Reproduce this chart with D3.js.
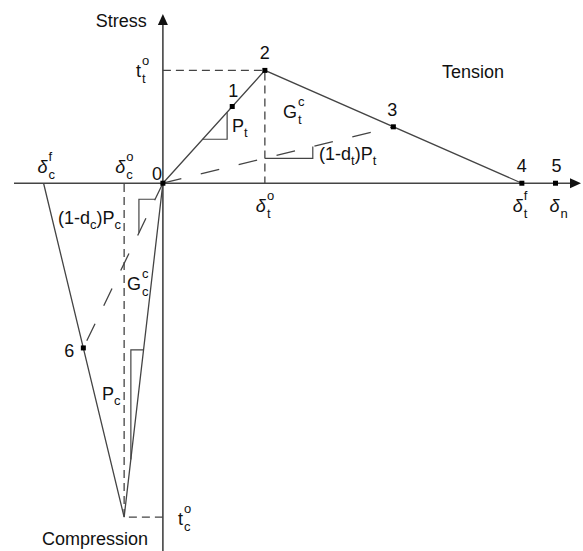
<!DOCTYPE html>
<html lang="en">
<head>
<meta charset="UTF-8">
<title>Traction-separation law</title>
<script src="https://d3js.org/d3.v7.min.js"></script>
<style>
  body { margin: 0; background: #fff; }
  text { font-family: "Liberation Sans", Arial, sans-serif; font-size: 18px; fill: #111; }
  text.small { font-size: 13px; }
  .axis { stroke: #444; stroke-width: 1.6; fill: none; }
  .curve { stroke: #444; stroke-width: 1.3; fill: none; }
  .guide { stroke: #444; stroke-width: 1.3; stroke-dasharray: 8,5; fill: none; }
  .damage { stroke: #444; stroke-width: 1.3; stroke-dasharray: 19,20; fill: none; }
  .slope { stroke: #444; stroke-width: 1.2; fill: none; }
</style>
</head>
<body>
<svg width="583" height="551"></svg>
<script>
// key values (strain in units of delta_t^o, stress in units of t_t^o)
const tensionX = [0, 1.0, 3.52];          // 0 -> peak (2) -> full failure (4)
const tensionY = [0, 1.0, 0];
const compressionX = [0, -0.38, -1.17];   // 0 -> peak -> full failure
const compressionY = [0, -2.96, 0];

// numbered state points 0..6
const pointNames = ["0", "1", "2", "3", "4", "5", "6"];
const pointX = [0, 0.68, 1.0, 2.26, 3.52, 3.85, -0.78];
const pointY = [0, 0.68, 1.0, 0.5, 0, 0, -1.46];

// damaged unloading lines: origin -> point 3, origin -> point 6
const damageTX = [0, 2.26], damageTY = [0, 0.5];
const damageCX = [0, -0.78], damageCY = [0, -1.46];

// slope triangles [x, y] corners
const slopePt = [[0.39, 0.39], [0.63, 0.39], [0.63, 0.63]];
const slopeDt = [[1.0, 0.221], [1.47, 0.221], [1.47, 0.325]];
const slopeDc = [[-0.076, -0.142], [-0.235, -0.142], [-0.235, -0.44]];
const slopePc = [[-0.19, -1.477], [-0.314, -1.477], [-0.314, -2.45]];

const xDomain = [-1.46, 4.1];
const yDomain = [1.5, -3.26];

const svg = d3.select("svg");
const x = d3.scaleLinear().domain(xDomain).range([14, 581]);
const y = d3.scaleLinear().domain(yDomain).range([14, 551]);
const line = d3.line().x(d => x(d[0])).y(d => y(d[1]));
const zip = (a, b) => a.map((v, i) => [v, b[i]]);

// axes
svg.append("line").attr("class", "axis")
  .attr("x1", x(xDomain[0])).attr("x2", x(xDomain[1]) - 8)
  .attr("y1", y(0)).attr("y2", y(0));
svg.append("line").attr("class", "axis")
  .attr("x1", x(0)).attr("x2", x(0))
  .attr("y1", y(yDomain[0]) + 8).attr("y2", y(yDomain[1]));
svg.append("path").attr("fill", "#111")
  .attr("d", `M${x(xDomain[1])},${y(0)} l-11,-5 v10 z`);
svg.append("path").attr("fill", "#111")
  .attr("d", `M${x(0)},${y(yDomain[0])} l-5,11 h10 z`);

// guide lines for peak values
svg.append("path").attr("class", "guide")
  .attr("d", line([[0, tensionY[1]], [tensionX[1], tensionY[1]], [tensionX[1], 0]]));
svg.append("path").attr("class", "guide")
  .attr("d", line([[0, compressionY[1]], [compressionX[1], compressionY[1]], [compressionX[1], 0]]));

// damage lines
svg.append("path").attr("class", "damage").attr("d", line(zip(damageTX, damageTY)));
svg.append("path").attr("class", "damage").attr("d", line(zip(damageCX, damageCY)));

// envelopes
svg.append("path").attr("class", "curve").attr("d", line(zip(tensionX, tensionY)));
svg.append("path").attr("class", "curve").attr("d", line(zip(compressionX, compressionY)));

// slope triangles
[slopePt, slopeDt, slopeDc, slopePc].forEach(s => {
  svg.append("path").attr("class", "slope").attr("d", line(s));
});

// point markers
svg.selectAll("rect.pt").data(zip(pointX, pointY)).enter().append("rect")
  .attr("class", "pt")
  .attr("x", d => x(d[0]) - 2.5).attr("y", d => y(d[1]) - 2.5)
  .attr("width", 5).attr("height", 5).attr("fill", "#000");

// point numbers
const numOffset = [[-11, -3], [-4, -10], [-5, -11], [-6, -11], [-5, -11], [-4, -11], [-19, 9]];
svg.selectAll("text.num").data(pointNames).enter().append("text")
  .attr("class", "num")
  .attr("x", (d, i) => x(pointX[i]) + numOffset[i][0])
  .attr("y", (d, i) => y(pointY[i]) + numOffset[i][1])
  .text(d => d);

// text with stacked super/subscript
function label(px, py, main, sup, sub, italic) {
  const t = svg.append("text").attr("x", px).attr("y", py).text(main)
    .style("font-style", italic ? "italic" : null);
  const w = t.node().getComputedTextLength();
  if (sup) svg.append("text").attr("class", "small").attr("x", px + w + 1).attr("y", py - 12).text(sup);
  if (sub) svg.append("text").attr("class", "small").attr("x", px + w + 1).attr("y", py + 6).text(sub);
}
// text with inline subscripts, parts: [text, isSub]
function inline(px, py, parts) {
  const t = svg.append("text").attr("x", px).attr("y", py);
  let low = false;
  parts.forEach(([s, isSub]) => {
    const dy = isSub && !low ? 5 : (!isSub && low ? -5 : 0);
    t.append("tspan").attr("dy", dy).style("font-size", isSub ? "13px" : null).text(s);
    low = isSub;
  });
}

svg.append("text").attr("x", x(0) - 16).attr("y", 27).attr("text-anchor", "end").text("Stress");
svg.append("text").attr("x", 442).attr("y", 78).text("Tension");
svg.append("text").attr("x", 42).attr("y", 545).text("Compression");

label(x(0) - 27, y(tensionY[1]) + 7, "t", "o", "t");
label(x(0) + 15, y(compressionY[1]) + 8, "t", "o", "c");
label(x(compressionX[2]) - 6, y(0) - 10, "δ", "f", "c", true);
label(x(compressionX[1]) - 9, y(0) - 10, "δ", "o", "c", true);
label(x(tensionX[1]) - 9, y(0) + 29, "δ", "o", "t", true);
label(x(tensionX[2]) - 9, y(0) + 29, "δ", "f", "t", true);
label(x(pointX[5]) - 6, y(0) + 29, "δ", null, "n", true);
label(283, 118, "G", "c", "t");
label(127, 290, "G", "c", "c");
inline(232, 132, [["P", false], ["t", true]]);
inline(319, 160, [["(1-d", false], ["t", true], [")P", false], ["t", true]]);
inline(58, 224, [["(1-d", false], ["c", true], [")P", false], ["c", true]]);
inline(102, 400, [["P", false], ["c", true]]);
</script>
</body>
</html>
